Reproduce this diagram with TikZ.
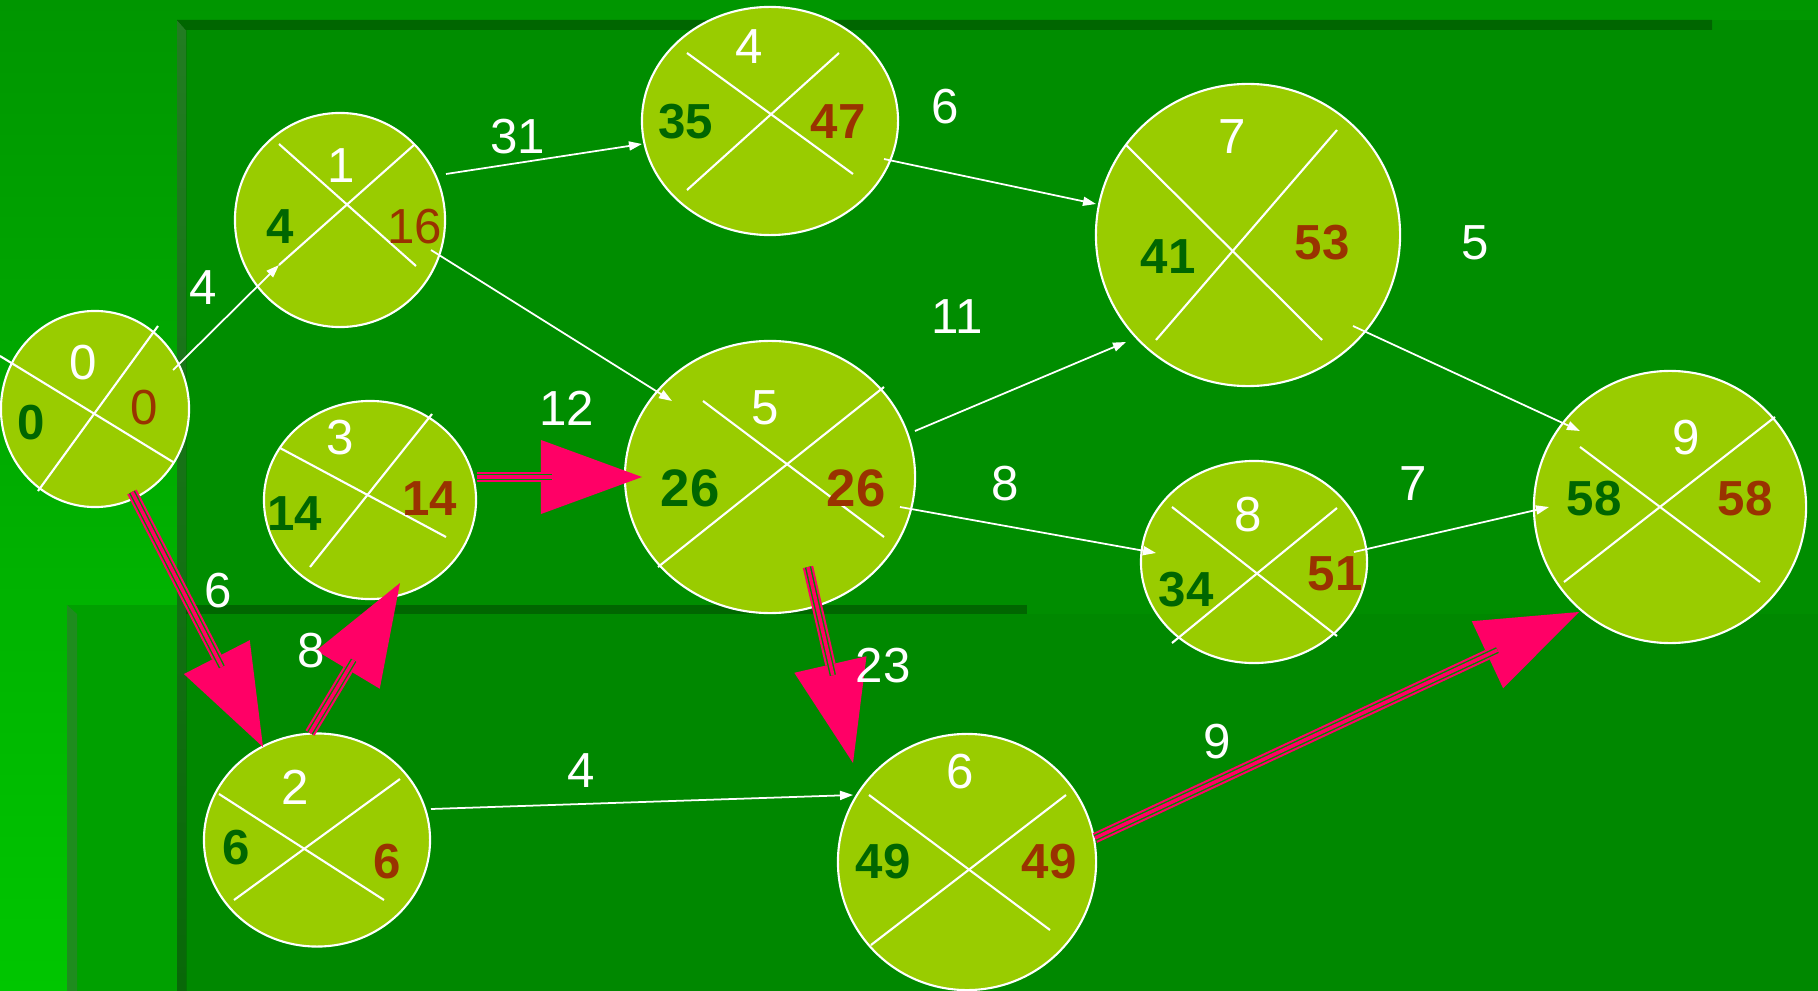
\documentclass[tikz,border=0pt]{standalone}
\usepackage{fontspec}
\setmainfont{Liberation Sans}
\usetikzlibrary{arrows.meta,calc,shapes.geometric}
\definecolor{OuterTop}{RGB}{0,150,0}
\definecolor{OuterBot}{RGB}{0,198,0}
\definecolor{PanelClr}{RGB}{0,141,0}
\definecolor{PanelLow}{RGB}{0,136,0}
\definecolor{PanelTwo}{RGB}{0,160,0}
\definecolor{EdgeTop}{RGB}{34,124,34}
\definecolor{EdgeBot}{RGB}{8,104,8}
\definecolor{EdgeTwo}{RGB}{30,140,30}
\definecolor{ShadowClr}{RGB}{0,102,0}
\definecolor{NodeClr}{RGB}{153,204,0}
\definecolor{EarlyClr}{RGB}{0,102,0}
\definecolor{LateClr}{RGB}{153,51,0}
\definecolor{CritClr}{RGB}{255,0,102}
\newcommand\pertfont{\fontsize{14}{16}\selectfont}

\begin{document}
\begin{tikzpicture}[x=0.01cm,y=-0.01cm,
  evt/.style={ellipse,fill=NodeClr,draw=white,line width=0.6pt,inner sep=0pt},
  crossln/.style={draw=white,line width=0.6pt},
  act/.style={draw=white,line width=0.5pt,-{Triangle[length=0.13cm,width=0.09cm]}},
  crit/.style={draw=CritClr,line width=3pt,-{Triangle[length=1.01cm,width=0.74cm,line width=0pt]},
    postaction={draw=PanelClr,line width=1.8pt,-,shorten >=0.9cm},
    postaction={draw=CritClr,line width=1pt,-,shorten >=0.9cm}},
  idx/.style={text=white,font=\pertfont},
  es/.style={text=EarlyClr,font=\pertfont\bfseries},
  lf/.style={text=LateClr,font=\pertfont\bfseries},
  lfn/.style={text=LateClr,font=\pertfont},
  dur/.style={text=white,font=\pertfont}]
\useasboundingbox (0,0) rectangle (1818,991);

% background panels
\fill[top color=OuterTop,bottom color=OuterBot] (0,0) rectangle (1818,991);
\fill[PanelTwo] (67,605) rectangle (1818,991);
\fill[EdgeTwo] (67,605) -- (77,614) -- (77,991) -- (67,991) -- cycle;
\fill[PanelClr] (177,20) rectangle (1818,991);
\fill[PanelLow] (186,614) rectangle (1818,991);
\fill[ShadowClr] (186,605) rectangle (1027,614);
\fill[top color=EdgeTop,bottom color=EdgeBot] (177,20) -- (186,30) -- (186,991) -- (177,991) -- cycle;
\fill[ShadowClr] (177,20) -- (1712,20) -- (1712,30) -- (186,30) -- cycle;

% events
\node[evt,minimum width=1.88cm,minimum height=1.96cm] (n0) at (95,409) {};
\node[evt,minimum width=2.10cm,minimum height=2.14cm] (n1) at (340,220) {};
\node[evt,minimum width=2.12cm,minimum height=1.98cm] (n3) at (370,500) {};
\node[evt,minimum width=2.26cm,minimum height=2.13cm] (n2) at (317,840) {};
\node[evt,minimum width=2.56cm,minimum height=2.28cm] (n4) at (770,121) {};
\node[evt,minimum width=2.90cm,minimum height=2.72cm] (n5) at (770,477) {};
\node[evt,minimum width=2.58cm,minimum height=2.56cm] (n6) at (967,862) {};
\node[evt,minimum width=3.04cm,minimum height=3.02cm] (n7) at (1248,235) {};
\node[evt,minimum width=2.26cm,minimum height=2.02cm] (n8) at (1254,562) {};
\node[evt,minimum width=2.72cm,minimum height=2.72cm] (n9) at (1670,507) {};

% crosses
\draw[crossln] ($(n0)+(-95,-53)$) -- ($(n0)+(78,53)$);
\draw[crossln] ($(n0)+(-57,82)$) -- ($(n0)+(63,-83)$);
\draw[crossln] ($(n1)+(-61,-76)$) -- ($(n1)+(76,46)$);
\draw[crossln] ($(n1)+(-61,45)$) -- ($(n1)+(74,-75)$);
\draw[crossln] ($(n3)+(-90,-52)$) -- ($(n3)+(76,37)$);
\draw[crossln] ($(n3)+(-60,67)$) -- ($(n3)+(62,-86)$);
\draw[crossln] ($(n2)+(-98,-46)$) -- ($(n2)+(67,60)$);
\draw[crossln] ($(n2)+(-83,60)$) -- ($(n2)+(83,-61)$);
\draw[crossln] ($(n4)+(-83,-68)$) -- ($(n4)+(83,53)$);
\draw[crossln] ($(n4)+(-83,69)$) -- ($(n4)+(69,-68)$);
\draw[crossln] ($(n5)+(-67,-76)$) -- ($(n5)+(114,60)$);
\draw[crossln] ($(n5)+(-112,90)$) -- ($(n5)+(114,-90)$);
\draw[crossln] ($(n6)+(-98,-67)$) -- ($(n6)+(83,68)$);
\draw[crossln] ($(n6)+(-96,83)$) -- ($(n6)+(99,-67)$);
\draw[crossln] ($(n7)+(-122,-90)$) -- ($(n7)+(74,105)$);
\draw[crossln] ($(n7)+(-92,105)$) -- ($(n7)+(89,-105)$);
\draw[crossln] ($(n8)+(-82,-55)$) -- ($(n8)+(83,74)$);
\draw[crossln] ($(n8)+(-82,81)$) -- ($(n8)+(83,-54)$);
\draw[crossln] ($(n9)+(-90,-60)$) -- ($(n9)+(90,75)$);
\draw[crossln] ($(n9)+(-106,75)$) -- ($(n9)+(105,-90)$);

% numbers in the events
\node[idx] (n0i) at (83,363) {0};   \node[es] (n0e) at (31,423) {0};    \node[lfn] (n0l) at (144,408) {0};
\node[idx] (n1i) at (341,166) {1};  \node[es] (n1e) at (280,227) {4};   \node[lfn] (n1l) at (415,227) {16};
\node[idx] (n3i) at (340,438) {3};  \node[es] (n3e) at (295,514) {14};  \node[lf] (n3l) at (430,499) {14};
\node[idx] (n2i) at (295,787) {2};  \node[es] (n2e) at (236,848) {6};   \node[lf] (n2l) at (387,862) {6};
\node[idx] (n4i) at (749,47) {4};   \node[es] (n4e) at (686,122) {35};  \node[lf] (n4l) at (838,122) {47};
\node[idx] (n5i) at (765,408) {5};
\node[es,font=\fontsize{15}{17}\selectfont\bfseries] (n5e) at (690,488) {26};
\node[lf,font=\fontsize{15}{17}\selectfont\bfseries] (n5l) at (856,488) {26};
\node[idx] (n6i) at (960,772) {6};  \node[es] (n6e) at (883,862) {49};  \node[lf] (n6l) at (1049,862) {49};
\node[idx] (n7i) at (1232,137) {7}; \node[es] (n7e) at (1168,257) {41}; \node[lf] (n7l) at (1322,243) {53};
\node[idx] (n8i) at (1248,515) {8}; \node[es] (n8e) at (1186,590) {34}; \node[lf] (n8l) at (1335,574) {51};
\node[idx] (n9i) at (1686,438) {9}; \node[es] (n9e) at (1594,499) {58}; \node[lf] (n9l) at (1745,499) {58};

% activities
\draw[act] ($(n0)+(78,-39)$) -- ($(n1)+(-61,45)$);
\draw[act] ($(n1)+(106,-46)$) -- ($(n4)+(-128,23)$);
\draw[act] ($(n1)+(91,30)$) -- ($(n5)+(-98,-76)$);
\draw[act] ($(n4)+(114,38)$) -- ($(n7)+(-152,-31)$);
\draw[act] ($(n5)+(145,-46)$) -- ($(n7)+(-122,107)$);
\draw[act] ($(n5)+(130,30)$) -- ($(n8)+(-98,-9)$);
\draw[act] ($(n7)+(105,91)$) -- ($(n9)+(-90,-76)$);
\draw[act] ($(n8)+(100,-10)$) -- ($(n9)+(-121,0)$);
\draw[act] ($(n2)+(114,-31)$) -- ($(n6)+(-114,-67)$);

% critical path
\draw[crit] ($(n0)+(37,83)$) -- ($(n2)+(-54,-93)$);
\draw[crit] ($(n2)+(-7,-107)$) -- ($(n3)+(30,83)$);
\draw[crit] ($(n3)+(107,-23)$) -- ($(n5)+(-128,0)$);
\draw[crit] ($(n5)+(38,90)$) -- ($(n6)+(-114,-99)$);
\draw[crit] ($(n6)+(128,-24)$) -- ($(n9)+(-91,105)$);

% durations
\node[dur] (d01) at (203,288) {4};
\node[dur] (d14) at (518,137) {31};
\node[dur] (d47) at (945,107) {6};
\node[dur] (d57) at (957,317) {11};
\node[dur] (d79) at (1475,243) {5};
\node[dur] (d35) at (567,408) {12};
\node[dur] (d58) at (1005,484) {8};
\node[dur] (d89) at (1413,484) {7};
\node[dur] (d02) at (218,591) {6};
\node[dur] (d23) at (311,651) {8};
\node[dur] (d56) at (883,666) {23};
\node[dur] (d26) at (581,771) {4};
\node[dur] (d69) at (1217,742) {9};

\end{tikzpicture}
\end{document}
